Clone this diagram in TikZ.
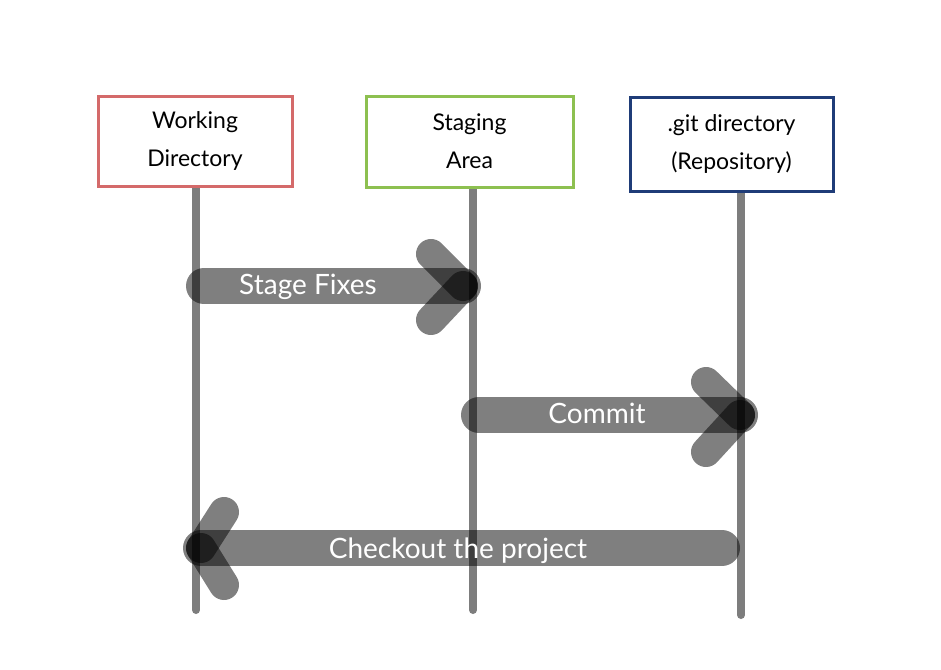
\documentclass[tikz,border=0pt]{standalone}
\usepackage{fontspec}
\setmainfont{Lato}
\usepackage{xcolor}
\usepackage{tikz}
\usetikzlibrary{positioning, backgrounds}

\definecolor{wdred}{RGB}{212,106,106}
\definecolor{sagreen}{RGB}{141,192,80}
\definecolor{repoblue}{RGB}{31,60,120}
\definecolor{lifegray}{RGB}{125,125,125}

\begin{document}
\begin{tikzpicture}[x=1pt, y=-1pt,
    box/.style={draw, line width=3pt, fill=white, inner sep=0pt, align=center,
      font=\fontsize{23}{38}\selectfont},
    lifeline/.style={draw=lifegray, line width=8pt, line cap=round},
    msgbody/.style={draw=black, draw opacity=0.5, line width=36pt, line cap=round},
    msgtip/.style={draw=black, draw opacity=0.5, line width=30pt, line cap=round},
    msgtext/.style={text=white, font=\fontsize{28}{28}\selectfont}]
          \useasboundingbox (0,0) rectangle (941,669);

          % participants
          \node[box, draw=wdred, minimum width=194pt, minimum height=90pt] (wd) at (195,141) {Working\\Directory};
          \node[box, draw=sagreen, minimum width=207pt, minimum height=91pt] (sa) at (469.5,141.5) {Staging\\Area};
          \node[box, draw=repoblue, minimum width=203pt, minimum height=94pt] (rp) at (731.5,144) {.git directory\\(Repository)};

          \coordinate (wdend) at (196,610);
          \coordinate (saend) at (473,610);
          \coordinate (rpend) at (741,615);

          \begin{scope}[on background layer]
            \fill[white] (0,0) rectangle (941,669);
            \draw[lifeline] (wd.south -| wdend) -- (wdend);
            \draw[lifeline] (sa.south -| saend) -- (saend);
            \draw[lifeline] (rp.south -| rpend) -- (rpend);
          \end{scope}

          % stage fixes
          \coordinate (sfstart) at (204,286);
          \coordinate (sftip) at (463,286);
          \coordinate (sfup) at (431,254);
          \coordinate (sflow) at (431,320);
          \draw[msgbody] (sfstart) -- (sftip);
          \draw[msgtip] (sfup) -- (sftip);
          \draw[msgtip] (sflow) -- (sftip);
          \node[msgtext] (sftext) at (308,287) {Stage Fixes};

          % commit
          \coordinate (cmstart) at (479,415);
          \coordinate (cmtip) at (740,415);
          \coordinate (cmup) at (706,382);
          \coordinate (cmlow) at (706,452);
          \draw[msgbody] (cmstart) -- (cmtip);
          \draw[msgtip] (cmup) -- (cmtip);
          \draw[msgtip] (cmlow) -- (cmtip);
          \node[msgtext] (cmtext) at (597,413) {Commit};

          % checkout
          \coordinate (costart) at (722,548);
          \coordinate (cotip) at (201,548);
          \coordinate (coup) at (224,512);
          \coordinate (colow) at (224,585);
          \draw[msgbody] (costart) -- (cotip);
          \draw[msgtip] (coup) -- (cotip);
          \draw[msgtip] (colow) -- (cotip);
          \node[msgtext] (cotext) at (458,551) {Checkout the project};
        \end{tikzpicture}
\end{document}
